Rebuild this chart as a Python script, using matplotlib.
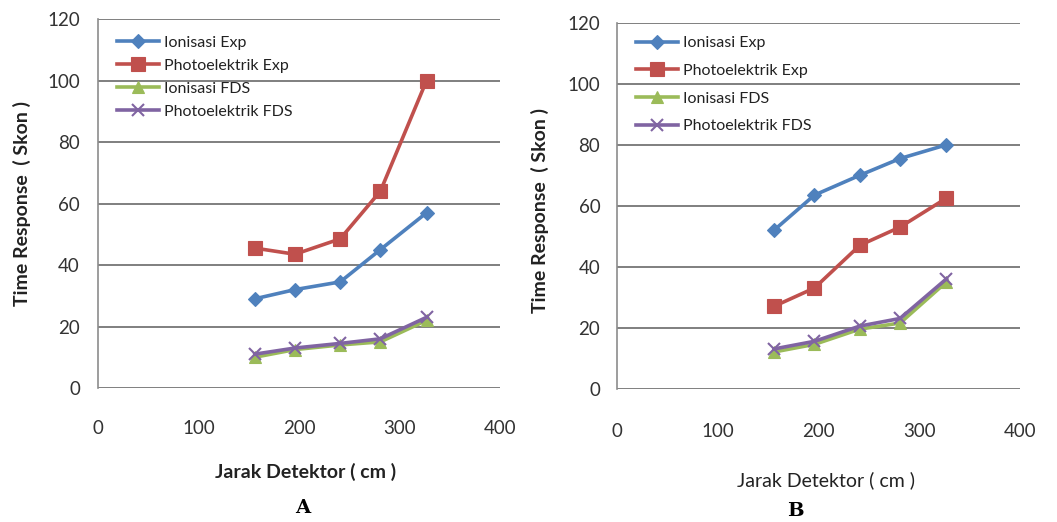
import matplotlib
matplotlib.use("Agg")
import matplotlib.pyplot as plt

# distance of detector (cm), same for both panels
jarak = [156, 196, 241, 281, 327]

# panel A
a_ionisasi_exp = [29, 32, 34.5, 45, 57]
a_photo_exp = [45.5, 43.5, 48.5, 64, 100]
a_ionisasi_fds = [10, 12.5, 14, 15, 22]
a_photo_fds = [11, 13, 14.5, 16, 23]

# panel B
b_ionisasi_exp = [52, 63.5, 70, 75.5, 80]
b_photo_exp = [27, 33, 47, 53, 62.5]
b_ionisasi_fds = [12, 14.5, 19.5, 21.5, 35]
b_photo_fds = [13, 15.5, 20.5, 23, 36]

labels = ["Ionisasi Exp", "Photoelektrik Exp", "Ionisasi FDS", "Photoelektrik FDS"]
y_ticks = [0, 20, 40, 60, 80, 100, 120]
x_ticks = [0, 100, 200, 300, 400]

plt.rcParams['font.family'] = ['Lato', 'DejaVu Sans']

colors = ['#4F81BD', '#C0504D', '#9BBB59', '#8064A2']
markers = ['D', 's', '^', 'x']
msizes = [7, 10, 8, 9]

fig = plt.figure(figsize=(10.57, 5.22), dpi=100)


def draw_panel(ax, series, xpad, ypad, spacing, anchor_y):
    for s, lab, c, m, ms in zip(series, labels, colors, markers, msizes):
        ax.plot(jarak, s, color=c, marker=m, markersize=ms, linewidth=2.6,
                markeredgewidth=1.5 if m == 'x' else 0.8, label=lab)
    ax.set_xlim(0, 400)
    ax.set_ylim(0, 120)
    ax.set_xticks(x_ticks)
    ax.set_yticks(y_ticks)
    ax.grid(axis='y', color='#7f7f7f', linewidth=1.4)
    ax.set_axisbelow(True)
    for side in ['top', 'right', 'bottom']:
        ax.spines[side].set_visible(False)
    ax.spines['left'].set_color('#8c8c8c')
    ax.spines['left'].set_linewidth(1.2)
    ax.tick_params(axis='both', length=0, labelsize=13.5, colors='#333333')
    ax.tick_params(axis='x', pad=xpad)
    ax.tick_params(axis='y', pad=ypad)
    leg = ax.legend(loc='upper left', frameon=False, fontsize=11.5, handlelength=2.6,
                    labelspacing=spacing, handletextpad=0.3, borderaxespad=0.3,
                    bbox_to_anchor=(0.02, anchor_y))
    for t in leg.get_texts():
        t.set_color('#222222')


ax1 = fig.add_axes([0.0927, 0.2567, 0.3803, 0.7069])
draw_panel(ax1, [a_ionisasi_exp, a_photo_exp, a_ionisasi_fds, a_photo_fds],
           23, 13, 0.55, 0.985)

ax2 = fig.add_axes([0.5837, 0.2557, 0.3813, 0.7003])
draw_panel(ax2, [b_ionisasi_exp, b_photo_exp, b_ionisasi_fds, b_photo_fds],
           25, 12, 0.85, 0.995)

# axis titles placed like the original figure
fig.text(22 / 1057, 1 - 203 / 522, "Time Response  ( Skon )", rotation=90,
         ha='center', va='center', fontsize=14, fontweight='bold', color='#222222')
fig.text(540 / 1057, 1 - 210 / 522, "Time Response  ( Skon )", rotation=90,
         ha='center', va='center', fontsize=14, fontweight='bold', color='#222222')
fig.text(306 / 1057, 1 - 472 / 522, "Jarak Detektor ( cm )", ha='center', va='center',
         fontsize=14, fontweight='bold', color='#222222')
fig.text(826 / 1057, 1 - 480 / 522, "Jarak Detektor ( cm )", ha='center', va='center',
         fontsize=14, color='#222222')
fig.text(303 / 1057, 1 - 508 / 522, "A", ha='center', va='center',
         fontsize=14, fontweight='bold', family='DejaVu Serif')
fig.text(795 / 1057, 1 - 511 / 522, "B", ha='center', va='center',
         fontsize=14, fontweight='bold', family='DejaVu Serif')

fig.savefig("out.png", dpi=100)
